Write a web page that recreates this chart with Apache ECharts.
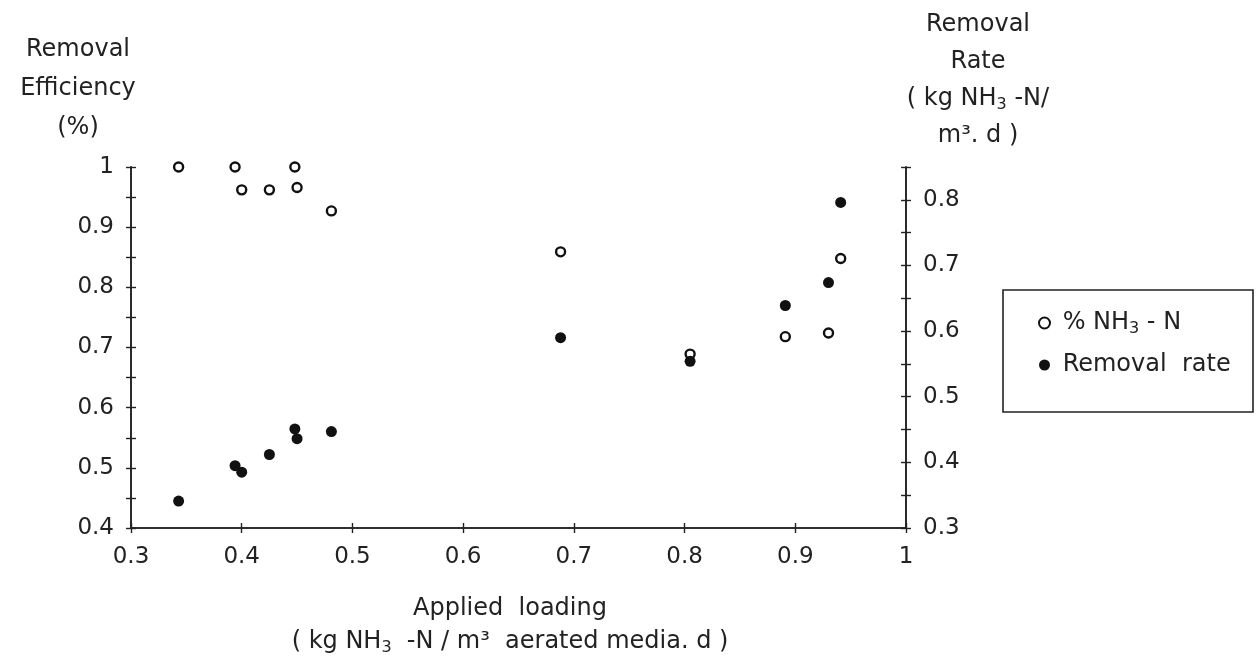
<!DOCTYPE html>
<html>
<head>
<meta charset="utf-8">
<script src="https://cdn.jsdelivr.net/npm/echarts@6/dist/echarts.min.js"></script>
<style>
    html, body { margin: 0; background: #fff; }
    #main { width: 1258px; height: 659px; }
</style>
</head>
<body>
<div id="main"></div>
<script>
// applied loading (kg NH3-N / m3 media . d)
var loading = [0.343, 0.394, 0.400, 0.425, 0.448, 0.450, 0.481, 0.688, 0.805, 0.891, 0.930, 0.941];
// removal efficiency (left axis)
var efficiency = [1.0, 1.0, 0.962, 0.962, 1.0, 0.966, 0.927, 0.859, 0.689, 0.718, 0.724, 0.848];
// removal rate (right axis)
var removalRate = [0.341, 0.395, 0.385, 0.412, 0.451, 0.436, 0.447, 0.590, 0.554, 0.639, 0.674, 0.796];

var xRange = [0.3, 1.0];
var leftRange = [0.4, 1.0];
var rightRange = [0.3, 0.85];

var FONT = 'DejaVu Sans';
var INK = '#222';

var myChart = echarts.init(document.getElementById('main'));

// only every 0.1 gets a label, the 0.05 ticks stay bare
function tenths(v) {
    return Math.round(v * 100) % 10 === 0 ? String(+v.toFixed(1)) : '';
}

// inside=true gives the inner half of the crossing ticks (second copy of the axis)
function axis(range, step, pos, inside) {
    return {
        type: 'value',
        position: pos,
        offset: 0,
        min: range[0],
        max: range[1],
        interval: step,
        splitLine: {show: false},
        axisLine: {show: true, onZero: false, lineStyle: {color: INK, width: 1.6}},
        axisTick: {show: true, inside: inside, length: 5, lineStyle: {color: INK, width: 1.4}},
        axisLabel: {
            show: !inside,
            formatter: tenths,
            fontFamily: FONT,
            fontSize: 23,
            color: INK,
            margin: pos === 'bottom' ? 18 : 17
        }
    };
}

var option = {
    animation: false,
    backgroundColor: '#fff',
    grid: {left: 131, right: 352, top: 167, bottom: 131},
    xAxis: [
        axis(xRange, 0.1, 'bottom', false),
        axis(xRange, 0.1, 'bottom', true)
    ],
    yAxis: [
        axis(leftRange, 0.05, 'left', false),
        axis(rightRange, 0.05, 'right', false),
        axis(leftRange, 0.05, 'left', true),
        axis(rightRange, 0.05, 'right', true)
    ],
    legend: {
        orient: 'vertical',
        left: 1033,
        top: 306,
        itemWidth: 11,
        itemHeight: 11,
        itemGap: 16,
        data: ['% NH3 - N', 'Removal rate'],
        formatter: function (name) {
            return name === 'Removal rate' ? '{t| Removal  rate}' : '{t| % NH}{s|3}{t| - N}';
        },
        textStyle: {
            fontFamily: FONT,
            fontSize: 24,
            color: INK,
            rich: {
                t: {fontFamily: FONT, fontSize: 24, color: INK},
                s: {fontFamily: FONT, fontSize: 16, color: INK, padding: [12, 0, 0, 0]}
            }
        }
    },
    graphic: [
        {
            type: 'rect',
            shape: {x: 1003, y: 290, width: 250, height: 122},
            style: {fill: 'none', stroke: INK, lineWidth: 1.6}
        },
        {
            type: 'text',
            x: 78, y: 89,
            style: {
                text: 'Removal\nEfficiency\n(%)',
                fontFamily: FONT, fontSize: 24, fill: INK,
                lineHeight: 39, align: 'center', verticalAlign: 'middle'
            }
        },
        {
            type: 'text',
            x: 978, y: 80,
            style: {
                text: '{t|Removal}\n{t|Rate}\n{t|( kg NH}{s|3}{t| -N/}\n{t|m³. d )}',
                fontFamily: FONT, fontSize: 24, fill: INK,
                align: 'center', verticalAlign: 'middle',
                rich: {
                    t: {fontFamily: FONT, fontSize: 24, fill: INK, lineHeight: 37},
                    s: {fontFamily: FONT, fontSize: 16, fill: INK, lineHeight: 37, padding: [12, 0, 0, 0]}
                }
            }
        },
        {
            type: 'text',
            x: 510, y: 625,
            style: {
                text: '{t|Applied  loading}\n{t|( kg NH}{s|3}{t|  -N / m³  aerated media. d )}',
                fontFamily: FONT, fontSize: 24, fill: INK,
                align: 'center', verticalAlign: 'middle',
                rich: {
                    t: {fontFamily: FONT, fontSize: 24, fill: INK, lineHeight: 33},
                    s: {fontFamily: FONT, fontSize: 16, fill: INK, lineHeight: 33, padding: [12, 0, 0, 0]}
                }
            }
        }
    ],
    series: [
        {
            name: '% NH3 - N',
            type: 'scatter',
            xAxisIndex: 0,
            yAxisIndex: 0,
            symbol: 'circle',
            symbolSize: 9,
            itemStyle: {color: '#fff', borderColor: '#111', borderWidth: 2.4, opacity: 1},
            data: loading.map(function (x, i) { return [x, efficiency[i]]; })
        },
        {
            name: 'Removal rate',
            type: 'scatter',
            xAxisIndex: 0,
            yAxisIndex: 1,
            symbol: 'circle',
            symbolSize: 11,
            itemStyle: {color: '#111', opacity: 1},
            data: loading.map(function (x, i) { return [x, removalRate[i]]; })
        }
    ]
};

myChart.setOption(option);
</script>
</body>
</html>
